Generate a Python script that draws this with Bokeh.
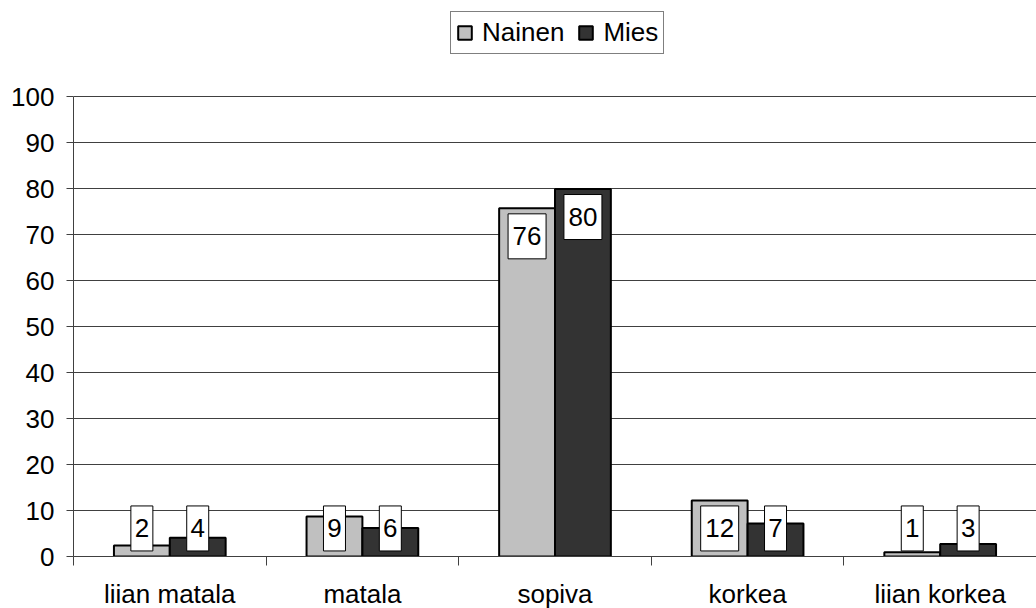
from bokeh.plotting import figure
from bokeh.models import ColumnDataSource, FixedTicker, Legend, LegendItem
from bokeh.embed import file_html
from bokeh.resources import INLINE
from bokeh.core.properties import value

categories = ["liian matala", "matala", "sopiva", "korkea", "liian korkea"]
nainen = [2.4, 8.7, 75.7, 12.2, 0.9]
mies = [4.1, 6.2, 79.9, 7.2, 2.7]
y_ticks = [0, 10, 20, 30, 40, 50, 60, 70, 80, 90, 100]

FONT = "Liberation Sans"
FS = "26px"
BAR_W = 0.29
C_NAINEN = "#C0C0C0"
C_MIES = "#333333"

n = len(categories)
centers = [i + 0.5 for i in range(n)]
x_nainen = [c - BAR_W / 2 for c in centers]
x_mies = [c + BAR_W / 2 for c in centers]

FRAME_H = 556
p = figure(frame_width=963, frame_height=FRAME_H, x_range=(0, 5), y_range=(0, 120.87),
           output_backend="svg", toolbar_location=None,
           min_border_left=73, min_border_right=0, min_border_top=0, min_border_bottom=40)
p.outline_line_color = None
p.background_fill_color = "white"
p.border_fill_color = "white"

# grid
p.xgrid.visible = False
p.ygrid.ticker = FixedTicker(ticks=y_ticks)
p.ygrid.grid_line_color = "#404040"
p.ygrid.grid_line_width = 1

# y axis
p.yaxis.ticker = FixedTicker(ticks=y_ticks, minor_ticks=[])
p.yaxis.bounds = (0, 100)
p.yaxis.axis_line_color = "#404040"
p.yaxis.major_tick_line_color = "#404040"
p.yaxis.major_tick_out = 7
p.yaxis.major_tick_in = 0
p.yaxis.major_label_standoff = 12
p.yaxis.major_label_text_font = FONT
p.yaxis.major_label_text_font_size = FS
p.yaxis.major_label_text_color = "black"

# x axis: labels at category centres, ticks at boundaries
p.xaxis.ticker = FixedTicker(ticks=centers, minor_ticks=list(range(n + 1)))
p.xaxis.major_label_overrides = {c: lab for c, lab in zip(centers, categories)}
p.xaxis.axis_line_color = "#404040"
p.xaxis.major_tick_line_color = None
p.xaxis.major_tick_out = 0
p.xaxis.major_tick_in = 0
p.xaxis.minor_tick_line_color = "#404040"
p.xaxis.minor_tick_out = 9
p.xaxis.minor_tick_in = 0
p.xaxis.major_label_standoff = 13
p.xaxis.major_label_text_font = FONT
p.xaxis.major_label_text_font_size = FS
p.xaxis.major_label_text_color = "black"

# bars
r_n = p.vbar(x=x_nainen, top=nainen, width=BAR_W, fill_color=C_NAINEN,
             line_color="black", line_width=2)
r_m = p.vbar(x=x_mies, top=mies, width=BAR_W, fill_color=C_MIES,
             line_color="black", line_width=2)

# value labels (white boxes)
LABEL_OFFSET = 6.1
lx, ly, lt, lw = [], [], [], []
for xs, vals in ((x_nainen, nainen), (x_mies, mies)):
    for x, v in zip(xs, vals):
        txt = str(int(round(v)))
        lx.append(x)
        ly.append(max(v - LABEL_OFFSET, LABEL_OFFSET))
        lt.append(txt)
        lw.append(6 + 16 * len(txt))
src = ColumnDataSource(dict(x=lx, y=ly, t=lt, w=lw))
p.rect(x="x", y="y", width="w", height=45, width_units="screen", height_units="screen",
       fill_color="white", line_color="black", line_width=1, source=src)
p.text(x="x", y="y", text="t", text_align="center", text_baseline="middle",
       text_font=value(FONT), text_font_size=FS, text_color="black", source=src)

# legend
legend = Legend(items=[LegendItem(label="Nainen", renderers=[r_n]),
                       LegendItem(label="Mies", renderers=[r_m])],
                location=(377, FRAME_H - 54), orientation="horizontal")
legend.margin = 0
legend.padding = 5
legend.spacing = 13
legend.glyph_width = 17
legend.glyph_height = 17
legend.label_standoff = 9
legend.label_text_font = FONT
legend.label_text_font_size = FS
legend.label_text_color = "black"
legend.border_line_color = "black"
legend.border_line_width = 1
legend.background_fill_color = "white"
legend.background_fill_alpha = 1
p.add_layout(legend)

open("out.html", "w").write(file_html(p, INLINE))
